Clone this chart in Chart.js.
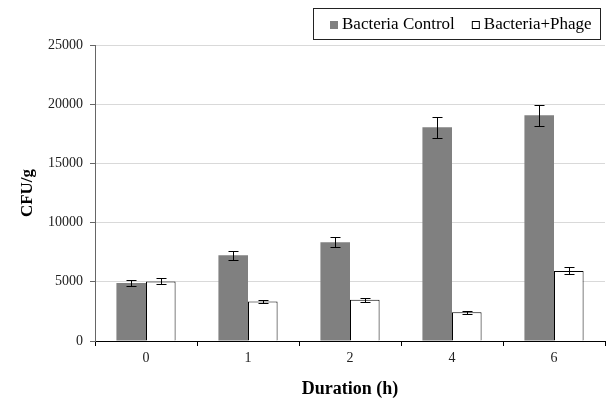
<!DOCTYPE html>
<html>
<head>
<meta charset="utf-8">
<script src="https://cdn.jsdelivr.net/npm/chart.js@4"></script>
<style>
  html, body { margin: 0; padding: 0; background: #fff; }
</style>
</head>
<body>
<canvas id="chart" width="606" height="405"></canvas>
<script>
// Data
const durations = ['0', '1', '2', '4', '6'];
const controlValues = [4900, 7250, 8330, 18050, 19070];
const controlErrors = [230, 370, 420, 900, 900];
const phageValues = [5030, 3340, 3480, 2420, 5920];
const phageErrors = [250, 110, 150, 110, 290];
const yTicks = [0, 5000, 10000, 15000, 20000, 25000];

const seriesNames = ['Bacteria Control', 'Bacteria+Phage'];
const serif = '"Liberation Serif", "Times New Roman", serif';

// Error bars drawn through the y scale
const errorBars = {
  id: 'errorBars',
  afterDatasetsDraw(chart) {
    const ctx = chart.ctx;
    const yScale = chart.scales.y;
    ctx.save();
    ctx.strokeStyle = '#000';
    ctx.lineWidth = 1;
    chart.data.datasets.forEach((ds, i) => {
      const meta = chart.getDatasetMeta(i);
      meta.data.forEach((bar, j) => {
        const v = ds.data[j];
        const e = ds.errors[j];
        const yTop = Math.round(yScale.getPixelForValue(v + e)) + 0.5;
        const yBot = Math.round(yScale.getPixelForValue(v - e)) + 0.5;
        const x = Math.round(bar.x) + 0.5;
        ctx.beginPath();
        ctx.moveTo(x, yTop);
        ctx.lineTo(x, yBot);
        ctx.moveTo(x - 5, yTop);
        ctx.lineTo(x + 5, yTop);
        ctx.moveTo(x - 5, yBot);
        ctx.lineTo(x + 5, yBot);
        ctx.stroke();
      });
    });
    ctx.restore();
  }
};

// Boxed legend in the top right corner
const boxedLegend = {
  id: 'boxedLegend',
  afterDraw(chart) {
    const ctx = chart.ctx;
    const left = 313.5, top = 8.5, width = 287, height = 31;
    ctx.save();
    ctx.fillStyle = '#fff';
    ctx.fillRect(left, top, width, height);
    ctx.strokeStyle = '#222';
    ctx.lineWidth = 1;
    ctx.strokeRect(left, top, width, height);
    ctx.font = '17px ' + serif;
    ctx.textBaseline = 'middle';
    ctx.fillStyle = '#000';
    let x = 330;
    const cy = top + height / 2 + 1;
    chart.data.datasets.forEach((ds) => {
      ctx.fillStyle = ds.backgroundColor;
      ctx.fillRect(x, cy - 4, 8, 8);
      if (ds.borderWidth) {
        ctx.strokeStyle = '#000';
        ctx.strokeRect(x + 0.5, cy - 3.5, 7, 7);
      }
      ctx.fillStyle = '#000';
      ctx.fillText(ds.label, x + 12, cy);
      x += 12 + ctx.measureText(ds.label).width + 17;
    });
    ctx.restore();
  }
};

const ctx = document.getElementById('chart').getContext('2d');
const chart = new Chart(ctx, {
  type: 'bar',
  data: {
    labels: durations,
    datasets: [{
      label: seriesNames[0],
      data: controlValues,
      errors: controlErrors,
      backgroundColor: '#808080',
      borderWidth: 0
    }, {
      label: seriesNames[1],
      data: phageValues,
      errors: phageErrors,
      backgroundColor: '#ffffff',
      borderColor: '#000',
      borderWidth: 1
    }]
  },
  options: {
    responsive: false,
    animation: false,
    layout: { padding: { top: 45, right: 1, left: 0, bottom: 0 } },
    datasets: {
      bar: { categoryPercentage: 0.58, barPercentage: 1.0 }
    },
    plugins: {
      legend: { display: false },
      tooltip: { enabled: false }
    },
    scales: {
      x: {
        afterFit: (scale) => { scale.height = 64; },
        border: { color: '#000', width: 1 },
        grid: { offset: true, drawOnChartArea: false, tickLength: 5, color: '#000' },
        ticks: { color: '#222', font: { family: serif, size: 14 }, padding: 4 },
        title: {
          display: true, text: 'Duration (h)', color: '#000',
          font: { family: serif, size: 18, weight: 'bold' },
          padding: { top: 0, bottom: 5 }
        }
      },
      y: {
        min: 0,
        max: 25000,
        afterFit: (scale) => { scale.width = 95; },
        afterBuildTicks: (scale) => { scale.ticks = yTicks.map(v => ({ value: v })); },
        border: { color: '#666', width: 1 },
        grid: { color: '#d9d9d9', tickColor: '#666', tickLength: 5 },
        ticks: {
          color: '#222', font: { family: serif, size: 14 }, padding: 7,
          callback: (value) => String(value)
        },
        title: {
          display: true, text: 'CFU/g', color: '#000',
          font: { family: serif, size: 17, weight: 'bold' },
          padding: { top: 17, bottom: 0 }
        }
      }
    }
  },
  plugins: [errorBars, boxedLegend]
});
</script>
</body>
</html>
